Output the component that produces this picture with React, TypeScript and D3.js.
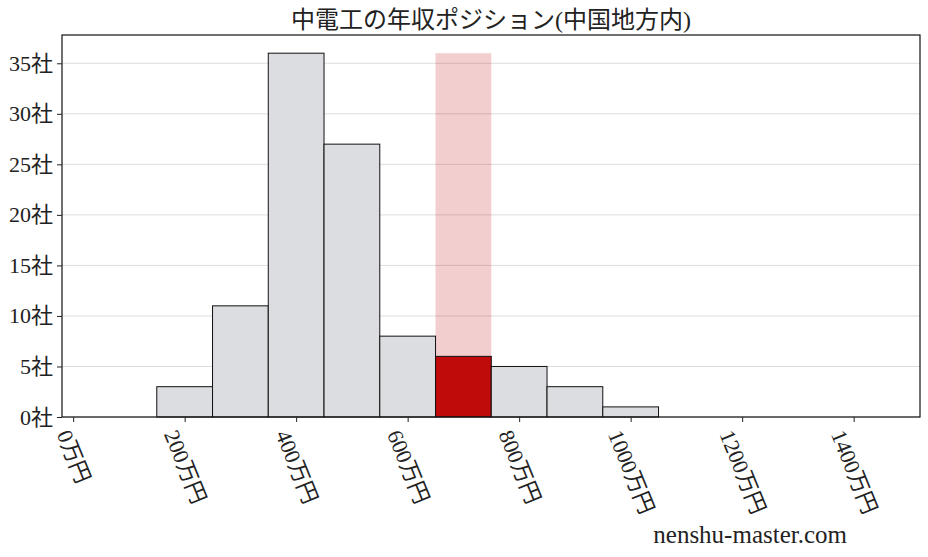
import React, { useEffect, useRef } from "react";
import { select, scaleLinear, axisBottom, axisLeft } from "d3";

const binStarts = [150, 250, 350, 450, 550, 650, 750, 850, 950];
const binWidth = 100;
const counts = [3, 11, 36, 27, 8, 6, 5, 3, 1];
const highlightIndex = 5;
const xTicks = [0, 200, 400, 600, 800, 1000, 1200, 1400];
const yTicks = [0, 5, 10, 15, 20, 25, 30, 35];
const title = "中電工の年収ポジション(中国地方内)";
const watermark = "nenshu-master.com";

const W = 928;
const H = 557;
const left = 62;
const right = 920;
const top = 35;
const bottom = 417;
const font = "'Liberation Serif', 'Noto Sans CJK JP', serif";
const tickFont = 22;
const angle = 68;

const App: React.FC = () => {
  const gx = useRef<SVGGElement>(null);
  const gy = useRef<SVGGElement>(null);

  const x = scaleLinear().domain([-20, 1519]).range([left, right]);
  const y = scaleLinear().domain([0, 37.8]).range([bottom, top]);
  const maxCount = Math.max(...counts);

  useEffect(() => {
    if (!gx.current) return;
    const g = select(gx.current);
    g.call(
      axisBottom(x)
        .tickValues(xTicks)
        .tickSize(5)
        .tickFormat((d) => `${d}万円`)
    );
    g.select(".domain").remove();
    g.selectAll(".tick line").attr("stroke", "#222");
    const rad = (angle * Math.PI) / 180;
    g.selectAll<SVGTextElement, number>(".tick text")
      .attr("fill", "#222")
      .attr("font-family", font)
      .attr("font-size", tickFont)
      .attr("text-anchor", "middle")
      .attr("dominant-baseline", "central")
      .attr("dy", null)
      .attr("y", 0)
      .each(function () {
        const L = this.getComputedTextLength();
        const h = L * Math.sin(rad) + tickFont * Math.cos(rad);
        select(this).attr("transform", `translate(0,${10 + h / 2}) rotate(${angle})`);
      });
  }, []);

  useEffect(() => {
    if (!gy.current) return;
    const g = select(gy.current);
    g.call(
      axisLeft(y)
        .tickValues(yTicks)
        .tickSize(5)
        .tickPadding(4)
        .tickFormat((d) => `${d}社`)
    );
    g.select(".domain").remove();
    g.selectAll(".tick line").attr("stroke", "#222");
    g.selectAll(".tick text")
      .attr("fill", "#222")
      .attr("font-family", font)
      .attr("font-size", tickFont);
  }, []);

  return (
    <svg
      width={W}
      height={H}
      style={{ position: "absolute", left: 0, top: 0, background: "#fff" }}
    >
      <text
        x={(left + right) / 2}
        y={28}
        textAnchor="middle"
        fontFamily={font}
        fontSize={24}
        fill="#222"
      >
        {title}
      </text>
      {yTicks.map((t) => (
        <line
          key={t}
          x1={left}
          x2={right}
          y1={y(t)}
          y2={y(t)}
          stroke="#dddddd"
          strokeWidth={1}
        />
      ))}
      <rect
        x={x(binStarts[highlightIndex])}
        y={y(maxCount)}
        width={x(binStarts[highlightIndex] + binWidth) - x(binStarts[highlightIndex])}
        height={bottom - y(maxCount)}
        fill="rgb(192,10,10)"
        fillOpacity={0.2}
      />
      {counts.map((c, i) => (
        <rect
          key={i}
          x={x(binStarts[i])}
          y={y(c)}
          width={x(binStarts[i] + binWidth) - x(binStarts[i])}
          height={bottom - y(c)}
          fill={i === highlightIndex ? "#c00b0b" : "#dcdde0"}
          stroke="#111"
          strokeWidth={1}
        />
      ))}
      <rect
        x={left}
        y={top}
        width={right - left}
        height={bottom - top}
        fill="none"
        stroke="#111"
        strokeWidth={1.2}
      />
      <g ref={gx} transform={`translate(0,${bottom})`} />
      <g ref={gy} transform={`translate(${left},0)`} />
      <text
        x={847}
        y={543}
        textAnchor="end"
        fontFamily={font}
        fontSize={25}
        fill="#222"
      >
        {watermark}
      </text>
    </svg>
  );
};

export default App;
